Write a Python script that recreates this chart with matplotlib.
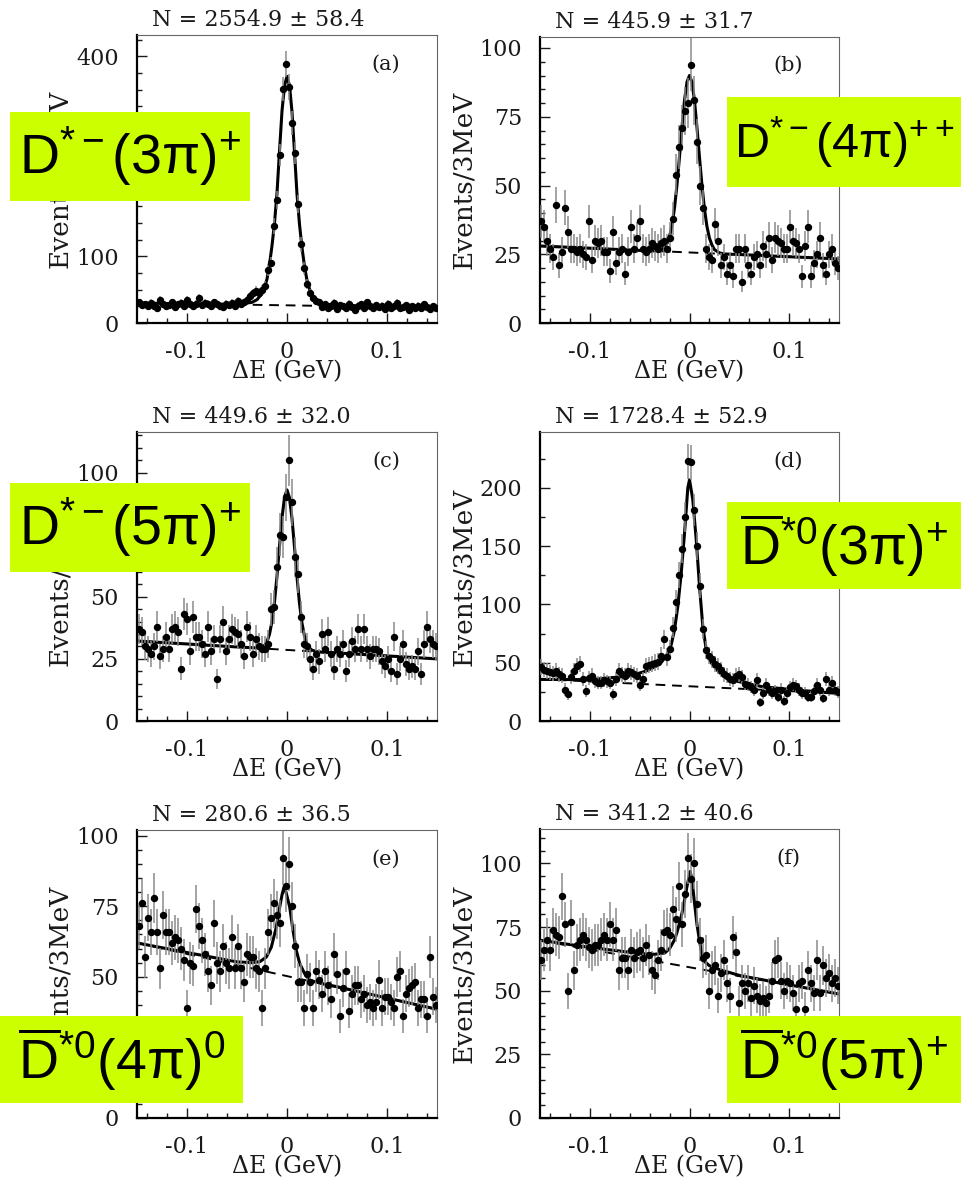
import numpy as np
import matplotlib
matplotlib.use('Agg')
import matplotlib.pyplot as plt
from matplotlib.patches import Rectangle
from matplotlib.ticker import MultipleLocator

plt.rcParams['font.family'] = 'DejaVu Serif'
plt.rcParams['mathtext.fontset'] = 'custom'
plt.rcParams['mathtext.rm'] = 'Liberation Sans'
plt.rcParams['mathtext.it'] = 'Liberation Sans:italic'
plt.rcParams['mathtext.bf'] = 'Liberation Sans:bold'

# 3 MeV bins between -0.15 and 0.15 GeV (bin centres)
delta_e = np.linspace(-0.1485, 0.1485, 100)

# events per bin
counts_a = [31, 27, 28, 25, 30, 26, 22, 34, 29, 25,
            27, 31, 24, 28, 30, 26, 34, 28, 25, 29,
            38, 27, 30, 29, 25, 31, 28, 26, 24, 29,
            27, 30, 26, 33, 29, 31, 35, 40, 45, 48,
            45, 50, 55, 80, 90, 146, 185, 252, 351, 389,
            354, 300, 255, 178, 118, 82, 58, 45, 38, 33,
            31, 24, 28, 22, 26, 30, 21, 27, 25, 23,
            29, 24, 20, 26, 28, 23, 31, 25, 22, 27,
            24, 26, 21, 29, 23, 25, 30, 22, 24, 27,
            20, 25, 23, 26, 22, 28, 24, 21, 25, 23]
counts_b = [37, 35, 30, 27, 24, 43, 21, 26, 42, 33,
            27, 27, 26, 27, 25, 24, 37, 23, 30, 29,
            30, 26, 26, 19, 33, 22, 26, 27, 18, 26,
            35, 27, 31, 37, 27, 26, 27, 29, 28, 27,
            29, 30, 27, 31, 38, 54, 64, 71, 77, 80,
            94, 81, 66, 50, 42, 27, 24, 23, 36, 30,
            21, 24, 18, 21, 17, 27, 27, 15, 27, 21,
            18, 24, 25, 21, 28, 25, 31, 23, 31, 30,
            29, 27, 27, 35, 30, 29, 27, 17, 28, 35,
            17, 22, 25, 31, 21, 18, 25, 27, 22, 20]
counts_c = [37, 36, 30, 29, 27, 30, 38, 26, 29, 34,
            29, 37, 38, 36, 21, 43, 41, 28, 42, 34,
            34, 31, 27, 38, 28, 33, 17, 33, 40, 28,
            33, 37, 36, 35, 31, 26, 38, 34, 27, 33,
            30, 29, 29, 31, 45, 46, 62, 75, 74, 90,
            105, 88, 66, 59, 42, 31, 30, 25, 21, 27,
            24, 35, 29, 36, 27, 21, 29, 27, 31, 20,
            27, 32, 29, 37, 29, 37, 29, 26, 29, 29,
            28, 24, 22, 25, 20, 34, 19, 25, 31, 23,
            21, 22, 21, 28, 19, 31, 38, 33, 31, 30]
counts_d = [46, 44, 43, 42, 41, 43, 40, 39, 27, 23,
            38, 43, 47, 49, 36, 26, 37, 39, 34, 33,
            33, 35, 34, 33, 23, 36, 43, 40, 39, 43,
            42, 40, 39, 31, 36, 47, 48, 49, 50, 51,
            56, 70, 55, 62, 80, 102, 125, 148, 175, 223,
            222, 181, 150, 116, 79, 61, 56, 53, 49, 47,
            44, 40, 39, 36, 35, 39, 40, 38, 32, 31,
            29, 27, 35, 16, 24, 31, 27, 24, 26, 21,
            27, 17, 24, 29, 31, 30, 27, 24, 24, 21,
            21, 26, 31, 27, 20, 36, 27, 33, 27, 25]
counts_e = [68, 76, 57, 71, 66, 78, 66, 53, 72, 66,
            66, 62, 64, 63, 60, 56, 39, 55, 54, 74,
            68, 63, 58, 52, 47, 69, 55, 52, 61, 55,
            53, 64, 53, 61, 53, 48, 58, 57, 57, 53,
            52, 39, 53, 66, 71, 76, 72, 69, 92, 82,
            90, 75, 61, 48, 48, 39, 51, 48, 39, 52,
            49, 44, 52, 47, 42, 58, 51, 36, 46, 52,
            38, 44, 47, 47, 42, 44, 40, 41, 39, 41,
            49, 39, 43, 43, 41, 39, 50, 52, 36, 44,
            46, 47, 48, 39, 42, 42, 36, 57, 43, 40]
counts_f = [62, 66, 70, 66, 74, 72, 71, 87, 76, 50,
            77, 58, 68, 70, 72, 70, 67, 66, 68, 68,
            70, 72, 70, 76, 70, 74, 58, 63, 63, 58,
            66, 63, 65, 66, 63, 68, 64, 58, 56, 62,
            66, 73, 74, 72, 82, 78, 91, 76, 88, 102,
            94, 100, 84, 70, 63, 64, 50, 58, 60, 48,
            57, 62, 53, 48, 71, 65, 45, 53, 50, 53,
            47, 52, 48, 46, 47, 45, 48, 54, 62, 63,
            54, 50, 54, 53, 49, 43, 53, 54, 43, 58,
            53, 49, 62, 49, 60, 55, 57, 53, 55, 52]

# fitted curves (signal + background)
fit_x = [-0.15, -0.10, -0.05, -0.035, -0.03, -0.025, -0.0225, -0.02, -0.0175,
         -0.015, -0.0125, -0.01, -0.0075, -0.005, -0.0025, 0.0, 0.0025, 0.005,
         0.0075, 0.01, 0.0125, 0.015, 0.0175, 0.02, 0.0225, 0.025, 0.03, 0.035,
         0.05, 0.10, 0.15]
fit_a = [30.0, 28.8, 28.0, 31.0, 35.0, 44.0, 53.0, 66.0, 88.0,
         116.0, 150.0, 195.0, 258.0, 318.0, 356.0, 370.0, 356.0, 317.0,
         256.0, 193.0, 148.0, 113.0, 85.0, 64.0, 51.0, 42.0, 33.0, 28.5,
         26.5, 24.7, 23.0]
fit_b = [28.0, 27.2, 26.4, 26.2, 26.4, 27.4, 29.0, 31.5, 35.6,
         42.0, 50.4, 60.6, 71.4, 81.0, 87.7, 90.0, 87.6, 80.9,
         71.1, 60.3, 50.1, 41.5, 35.1, 30.9, 28.4, 26.7, 25.5, 25.1,
         24.9, 24.1, 23.3]
fit_c = [32.2, 31.0, 29.8, 29.5, 29.4, 29.7, 30.4, 31.9, 34.9,
         40.1, 47.9, 58.3, 70.3, 81.7, 90.0, 93.0, 89.8, 81.5,
         69.9, 57.9, 47.3, 39.3, 34.1, 30.9, 29.3, 28.5, 27.9, 27.7,
         27.4, 26.2, 25.0]
fit_x_d = [-0.15, -0.10, -0.06, -0.0433, -0.03, -0.0233, -0.0183, -0.015, -0.0117,
           -0.0083, -0.005, -0.0017, 0.0, 0.0033, 0.0067, 0.01, 0.0133, 0.0167,
           0.0217, 0.03, 0.0467, 0.0733, 0.1067, 0.15]
fit_d = [35.7, 35.5, 38.6, 42.9, 48.6, 55.6, 65.6, 78.5, 98.5,
         127.0, 161.0, 200.0, 207.0, 190.0, 156.0, 116.0, 81.6, 61.6,
         50.0, 41.4, 34.3, 29.4, 26.6, 23.6]
fit_x_e = [-0.15, -0.10, -0.05, -0.035, -0.027, -0.0207, -0.0157, -0.0107, -0.0073,
           -0.005, -0.003, -0.001, 0.0027, 0.006, 0.0093, 0.0127, 0.0177, 0.0227,
           0.035, 0.05, 0.10, 0.15]
fit_e = [62.0, 58.6, 55.3, 55.0, 55.4, 57.0, 60.5, 67.6, 74.7,
         79.0, 81.8, 80.0, 74.7, 66.4, 59.4, 54.7, 51.1, 48.8,
         47.6, 46.5, 42.5, 38.5]
fit_x_f = [-0.15, -0.10, -0.05, -0.035, -0.025, -0.02, -0.015, -0.0125, -0.01,
           -0.0075, -0.005, -0.0025, 0.0007, 0.0025, 0.005, 0.0075, 0.01, 0.0125,
           0.015, 0.02, 0.03, 0.05, 0.10, 0.15]
fit_f = [69.8, 67.0, 64.6, 64.3, 64.8, 66.5, 70.0, 73.0, 76.5,
         80.5, 85.5, 91.0, 96.8, 93.5, 84.5, 76.0, 69.8, 64.0,
         61.5, 59.8, 58.3, 56.0, 52.3, 48.7]

# background only (dashed), end points
bkg_x = [-0.15, 0.15]
bkg_a = [30.0, 23.0]
bkg_b = [28.0, 23.3]
bkg_c = [32.2, 25.0]
bkg_d = [36.0, 23.6]
bkg_e = [62.0, 38.5]
bkg_f = [69.7, 48.7]

yields = ['N = 2554.9 \u00b1 58.4', 'N = 445.9 \u00b1 31.7', 'N = 449.6 \u00b1 32.0',
          'N = 1728.4 \u00b1 52.9', 'N = 280.6 \u00b1 36.5', 'N = 341.2 \u00b1 40.6']
tags = ['(a)', '(b)', '(c)', '(d)', '(e)', '(f)']
modes = [r'$\mathregular{D^{*-}(3\pi)^{+}}$',
         r'$\mathregular{D^{*-}(4\pi)^{++}}$',
         r'$\mathregular{D^{*-}(5\pi)^{+}}$',
         r'$\overline{\mathregular{D}}\mathregular{^{*0}(3\pi)^{+}}$',
         r'$\overline{\mathregular{D}}\mathregular{^{*0}(4\pi)^{0}}$',
         r'$\overline{\mathregular{D}}\mathregular{^{*0}(5\pi)^{+}}$']

W, H = 964, 1184
# axes boxes in pixels: left, top, right, bottom
frames = [(137, 35, 437, 323), (540, 37, 839, 323),
          (137, 432, 437, 721), (540, 432, 839, 721),
          (137, 830, 437, 1118), (540, 829, 839, 1118)]
ylims = [432, 104, 116.3, 248, 102, 113.5]
yticks = [(100, 25), (25, 5), (25, 5), (50, 25), (25, 5), (25, 5)]
# green label boxes in pixels: x0, y0, x1, y1
boxes = [(10, 112, 250, 201), (727, 97, 961, 187),
         (10, 483, 250, 572), (727, 502, 961, 589),
         (0, 1016, 243, 1103), (727, 1016, 961, 1103)]
box_font = [40, 35, 40, 40, 40, 40]

panels = [(counts_a, fit_x, fit_a, bkg_a), (counts_b, fit_x, fit_b, bkg_b),
          (counts_c, fit_x, fit_c, bkg_c), (counts_d, fit_x_d, fit_d, bkg_d),
          (counts_e, fit_x_e, fit_e, bkg_e), (counts_f, fit_x_f, fit_f, bkg_f)]

ink = '#1a1a1a'
fig = plt.figure(figsize=(W / 100, H / 100), dpi=100)

for k, (counts, fx, fy, bkg) in enumerate(panels):
    l, t, r, b = frames[k]
    ax = fig.add_axes([l / W, 1 - b / H, (r - l) / W, (b - t) / H])
    counts = np.array(counts, dtype=float)

    ax.plot(bkg_x, bkg, ls=(0, (5, 3.5)), color='black', lw=1.4, zorder=2)
    ax.plot(fx, fy, color='black', lw=2.2, zorder=3)
    ax.errorbar(delta_e, counts, yerr=np.sqrt(counts), fmt='o', ms=4.3,
                mfc='black', mec='black', ecolor='#8a8a8a', elinewidth=1.1,
                capsize=0, zorder=4)

    ax.set_xlim(-0.15, 0.15)
    ax.set_ylim(0, ylims[k])
    ax.set_xticks([-0.1, 0, 0.1])
    ax.set_xticklabels(['-0.1', '0', '0.1'])
    ax.xaxis.set_minor_locator(MultipleLocator(0.02))
    ax.yaxis.set_major_locator(MultipleLocator(yticks[k][0]))
    ax.yaxis.set_minor_locator(MultipleLocator(yticks[k][1]))
    ax.tick_params(which='both', direction='in', top=False, right=False,
                   labelsize=16, pad=13, colors=ink, width=1.0)
    ax.tick_params(which='major', length=7)
    ax.tick_params(which='minor', length=3.5)

    for side in ['left', 'bottom']:
        ax.spines[side].set_linewidth(1.6)
        ax.spines[side].set_color('black')
    for side in ['top', 'right']:
        ax.spines[side].set_linewidth(0.8)
        ax.spines[side].set_color('#666666')

    ax.set_xlabel('\u0394E (GeV)', fontsize=17, color=ink)
    ax.xaxis.set_label_coords(0.5, -0.13)
    ax.set_ylabel('Events/3MeV', fontsize=19, color=ink)
    ax.yaxis.set_label_coords(-0.215, 0.5)

    ax.text(0.05, 1 + 9 / (b - t), yields[k], transform=ax.transAxes,
            fontsize=16, color=ink, va='baseline', ha='left')
    ax.text(0.83, 0.90, tags[k], transform=ax.transAxes, fontsize=15,
            color=ink, ha='center', va='center')

for k, (x0, y0, x1, y1) in enumerate(boxes):
    fig.add_artist(Rectangle((x0 / W, 1 - y1 / H), (x1 - x0) / W, (y1 - y0) / H,
                             transform=fig.transFigure, facecolor='#ccff00',
                             edgecolor='none', zorder=5))
    fig.text((x0 + x1) / 2 / W, 1 - (y0 + y1) / 2 / H, modes[k],
             fontsize=box_font[k], family='Liberation Sans', ha='center',
             va='center', color='black', zorder=6)

fig.savefig('out.png', dpi=100)
